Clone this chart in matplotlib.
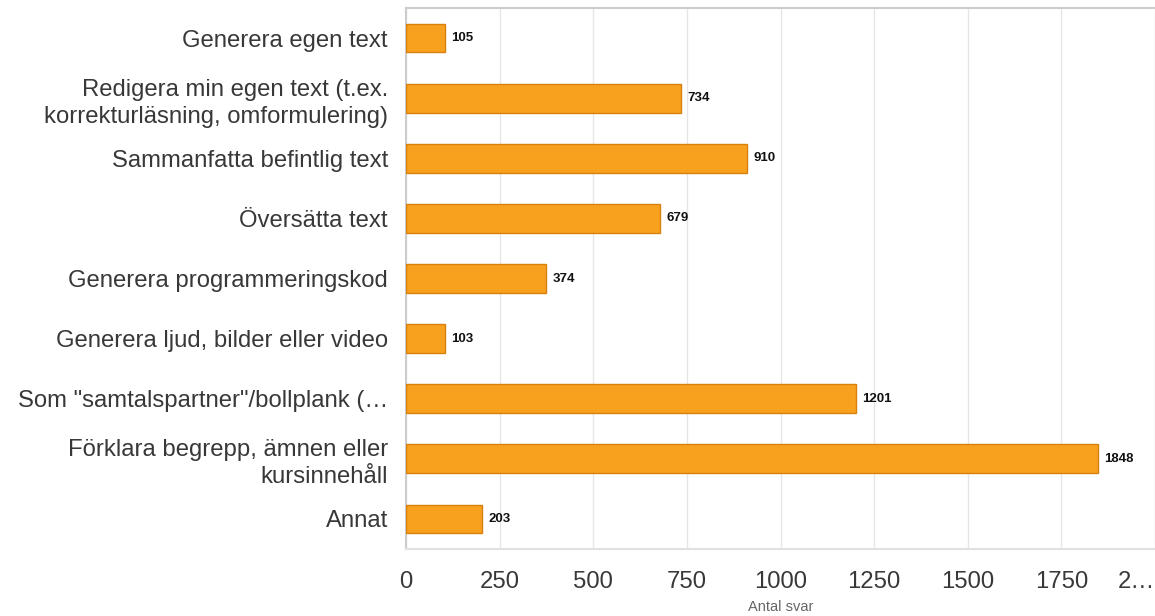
import matplotlib.pyplot as plt
import numpy as np

plt.rcParams['font.family'] = ['Liberation Sans', 'DejaVu Sans']

categories = [
    'Generera egen text',
    'Redigera min egen text (t.ex.\nkorrekturläsning, omformulering)',
    'Sammanfatta befintlig text',
    'Översätta text',
    'Generera programmeringskod',
    'Generera ljud, bilder eller video',
    'Som "samtalspartner"/bollplank (…',
    'Förklara begrepp, ämnen eller\nkursinnehåll',
    'Annat',
]
values = [105, 734, 910, 679, 374, 103, 1201, 1848, 203]
x_ticks = [0, 250, 500, 750, 1000, 1250, 1500, 1750, 2000]
x_tick_labels = ['0', '250', '500', '750', '1000', '1250', '1500', '1750', '2…']

fig = plt.figure(figsize=(11.55, 6.16), dpi=100)
ax = fig.add_axes([406 / 1155, 67 / 616, 749 / 1155, 541 / 616])

y = np.arange(len(categories))
ax.barh(y, values, height=0.48, color='#F7A11F', edgecolor='#D9800C', linewidth=1.0, zorder=3)

for yi, v in zip(y, values):
    ax.annotate(str(v), (v, yi), xytext=(4.5, 0), textcoords='offset points',
                ha='left', va='center', fontsize=9.5, fontweight='bold', color='#111111')

ax.set_xlim(0, 2000)
ax.set_ylim(len(categories) - 0.5, -0.5)

ax.set_yticks(y)
ax.set_yticklabels(categories, fontsize=17.2, color='#383838', linespacing=1.3)
ax.set_xticks(x_ticks)
ax.set_xticklabels(x_tick_labels, fontsize=17.2, color='#383838')
ax.get_xticklabels()[-1].set_horizontalalignment('right')
ax.tick_params(axis='y', length=0, pad=13)
ax.tick_params(axis='x', length=0, pad=16)

ax.grid(axis='x', color='#e6e6e6', linewidth=1, zorder=0)
for side in ['left', 'top']:
    ax.spines[side].set_color('#cccccc')
    ax.spines[side].set_linewidth(1.5)
ax.spines['bottom'].set_color('#e0e0e0')
ax.spines['bottom'].set_linewidth(1.5)
ax.spines['right'].set_visible(False)

ax.set_xlabel('Antal svar', fontsize=10.5, color='#666666', labelpad=5)

fig.savefig('out.png', dpi=100)
